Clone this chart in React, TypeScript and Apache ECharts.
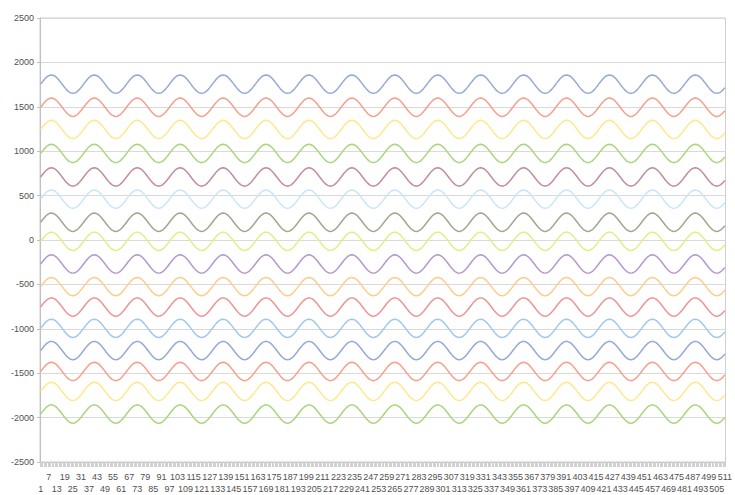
import React, { useEffect, useRef } from "react";
import * as echarts from "echarts";

// Category labels 1..511
const categories: string[] = Array.from({ length: 511 }, (_, i) => String(i + 1));

// One full wave cycle (32 points), amplitude ~103
const cycle: number[] = [
  0, 20, 39, 57, 73, 86, 95, 101, 103, 101, 95, 86, 73, 57, 39, 20,
  0, -20, -39, -57, -73, -86, -95, -101, -103, -101, -95, -86, -73, -57, -39, -20,
];

// Centre level of each of the 16 series
const offsets: number[] = [
  1755, 1495, 1245, 975, 710, 460, 200, -15, -270, -525, -755, -995, -1245, -1480, -1705, -1960,
];

const colors: string[] = [
  "#93a9d6", "#f6a08c", "#ffe88c", "#a8d67c", "#c48c9c", "#c8e6fa", "#9ea88c", "#e2ee84",
  "#b698cc", "#ffcc8c", "#ee9496", "#9ec8ee", "#93a9d6", "#f6a08c", "#ffe88c", "#a8d67c",
];

const yTicks = { min: -2500, max: 2500, interval: 500 };
const labelStep = 6;

export default function App() {
  const ref = useRef<HTMLDivElement>(null);
  useEffect(() => {
    document.body.style.margin = "0";
    if (!ref.current) return;
    const chart = echarts.init(ref.current, undefined, { renderer: "svg" });
    const series = offsets.map((off, k) => ({
      type: "line",
      name: "S" + (k + 1),
      data: categories.map((_, i) => off + cycle[i % cycle.length]),
      showSymbol: false,
      symbol: "none",
      smooth: false,
      lineStyle: { color: colors[k], width: 1.5 },
      itemStyle: { color: colors[k] },
      z: 3,
    }));
    chart.setOption({
      animation: false,
      backgroundColor: "#ffffff",
      grid: {
        left: 40,
        right: 4,
        top: 18,
        bottom: 31,
        show: true,
        borderColor: "#cfcfcf",
        borderWidth: 1,
      },
      xAxis: {
        type: "category",
        data: categories,
        boundaryGap: true,
        axisLine: { show: true, onZero: false, lineStyle: { color: "#c0c0c0", width: 1 } },
        axisTick: {
          show: true,
          interval: 0,
          length: 5,
          lineStyle: { color: "#d0d0d0", width: 1 },
        },
        axisLabel: {
          interval: 0,
          margin: 9,
          fontSize: 9,
          fontFamily: "Liberation Sans, Arial, sans-serif",
          color: "#505050",
          lineHeight: 12,
          formatter: (value: string, index: number) => {
            if (index % labelStep !== 0) return "";
            return Math.floor(index / labelStep) % 2 === 0 ? "\n" + value : value;
          },
        },
        splitLine: { show: false },
      },
      yAxis: {
        type: "value",
        min: yTicks.min,
        max: yTicks.max,
        interval: yTicks.interval,
        axisLine: { show: true, lineStyle: { color: "#c0c0c0", width: 1 } },
        axisTick: { show: true, length: 3, lineStyle: { color: "#c0c0c0" } },
        axisLabel: {
          fontSize: 9,
          margin: 6,
          fontFamily: "Liberation Sans, Arial, sans-serif",
          color: "#505050",
          formatter: (v: number) => String(v),
        },
        splitLine: { show: true, lineStyle: { color: "#dadada", width: 1 } },
      },
      series,
    });
    return () => chart.dispose();
  }, []);
  return <div ref={ref} style={{ width: 735, height: 495 }} />;
}
